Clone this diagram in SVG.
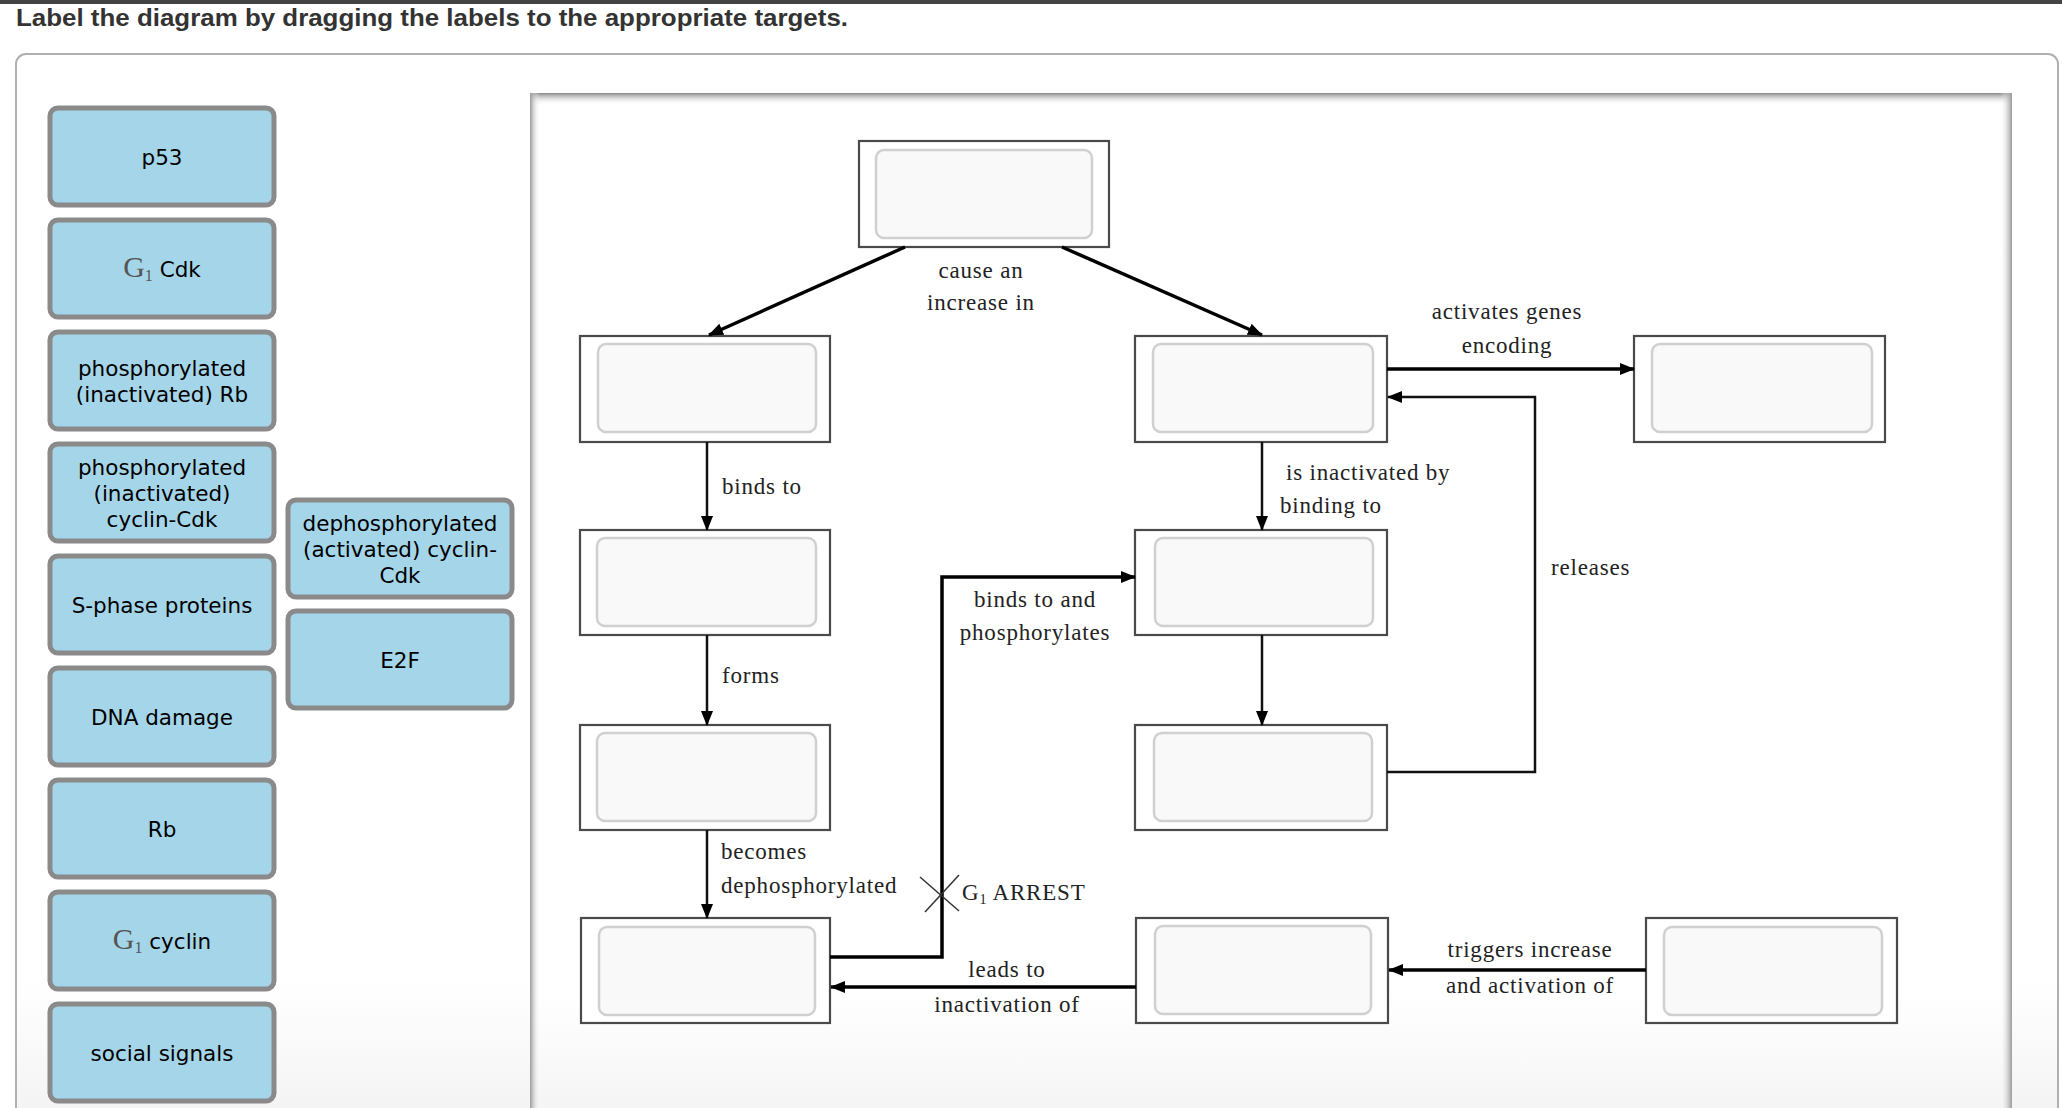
<svg xmlns="http://www.w3.org/2000/svg" width="2062" height="1108" viewBox="0 0 2062 1108">
<defs>
<style>
.title{font-family:"Liberation Sans",Arial,sans-serif;font-weight:bold;font-size:24px;fill:#333}
.btn{fill:#a5d5e8;stroke:#8a8a8a;stroke-width:5}
.btxt{font-family:"DejaVu Sans",Verdana,sans-serif;font-size:21.5px;fill:#000;text-anchor:middle}
.g1{font-family:"Liberation Serif","Times New Roman",serif;fill:#555}
.obox{fill:#fff;stroke:#4a4a4a;stroke-width:2.2}
.ibox{fill:#f9f9f9;stroke:#d0d0d0;stroke-width:2.5}
.lbl{font-family:"Liberation Serif","Times New Roman",serif;font-size:23px;fill:#222;letter-spacing:0.8px}
.mid{text-anchor:middle}
.thick{fill:none;stroke:#000;stroke-width:3.5}
.thin{fill:none;stroke:#111;stroke-width:2.5}
</style>
<marker id="ah" markerUnits="userSpaceOnUse" markerWidth="15" markerHeight="14" refX="14" refY="7" orient="auto">
<path d="M0,1 L15,7 L0,13 z" fill="#000"/>
</marker>
<linearGradient id="gTop" x1="0" y1="0" x2="0" y2="1"><stop offset="0" stop-color="#888"/><stop offset="1" stop-color="#fff" stop-opacity="0"/></linearGradient>
<linearGradient id="gLeft" x1="0" y1="0" x2="1" y2="0"><stop offset="0" stop-color="#9a9a9a"/><stop offset="1" stop-color="#fff" stop-opacity="0"/></linearGradient>
<linearGradient id="gRight" x1="1" y1="0" x2="0" y2="0"><stop offset="0" stop-color="#9a9a9a"/><stop offset="1" stop-color="#fff" stop-opacity="0"/></linearGradient>
<linearGradient id="gBot" x1="0" y1="0" x2="0" y2="1"><stop offset="0" stop-color="#fff"/><stop offset="0.85" stop-color="#fff"/><stop offset="1" stop-color="#f1f1f1"/></linearGradient>
</defs>
<rect x="0" y="0" width="2062" height="1108" fill="#fff"/>
<rect x="0" y="0" width="2062" height="4" fill="#444"/>
<text class="title" x="16" y="26" textLength="832" lengthAdjust="spacingAndGlyphs">Label the diagram by dragging the labels to the appropriate targets.</text>
<rect x="16" y="54" width="2042" height="1090" rx="10" fill="url(#gBot)" stroke="#b0b0b0" stroke-width="2"/>

<g id="labels">
<g id="lbl-p53"><rect class="btn" x="50" y="108" width="224" height="97" rx="8"/><text class="btxt" x="162" y="164.5">p53</text></g>
<g id="lbl-g1cdk"><rect class="btn" x="50" y="220" width="224" height="97" rx="8"/><text class="btxt" x="162" y="276.5"><tspan class="g1" font-size="30">G</tspan><tspan class="g1" font-size="16" dy="4">1</tspan><tspan dy="-4"> Cdk</tspan></text></g>
<g id="lbl-prb"><rect class="btn" x="50" y="332" width="224" height="97" rx="8"/><text class="btxt" x="162" y="375.5">phosphorylated</text><text class="btxt" x="162" y="401.5">(inactivated) Rb</text></g>
<g id="lbl-pcdk"><rect class="btn" x="50" y="444" width="224" height="97" rx="8"/><text class="btxt" x="162" y="474.5">phosphorylated</text><text class="btxt" x="162" y="500.5">(inactivated)</text><text class="btxt" x="162" y="526.5">cyclin-Cdk</text></g>
<g id="lbl-sphase"><rect class="btn" x="50" y="556" width="224" height="97" rx="8"/><text class="btxt" x="162" y="612.5">S-phase proteins</text></g>
<g id="lbl-dna"><rect class="btn" x="50" y="668" width="224" height="97" rx="8"/><text class="btxt" x="162" y="724.5">DNA damage</text></g>
<g id="lbl-rb"><rect class="btn" x="50" y="780" width="224" height="97" rx="8"/><text class="btxt" x="162" y="836.5">Rb</text></g>
<g id="lbl-g1cyclin"><rect class="btn" x="50" y="892" width="224" height="97" rx="8"/><text class="btxt" x="162" y="948.5"><tspan class="g1" font-size="30">G</tspan><tspan class="g1" font-size="16" dy="4">1</tspan><tspan dy="-4"> cyclin</tspan></text></g>
<g id="lbl-social"><rect class="btn" x="50" y="1004" width="224" height="97" rx="8"/><text class="btxt" x="162" y="1060.5">social signals</text></g>
<g id="lbl-dcdk"><rect class="btn" x="288" y="500" width="224" height="97" rx="8"/><text class="btxt" x="400" y="530.5">dephosphorylated</text><text class="btxt" x="400" y="556.5">(activated) cyclin-</text><text class="btxt" x="400" y="582.5">Cdk</text></g>
<g id="lbl-e2f"><rect class="btn" x="288" y="611" width="224" height="97" rx="8"/><text class="btxt" x="400" y="667.5">E2F</text></g>
</g>

<g id="panel">
<rect x="530" y="93" width="1482" height="1060" rx="6" fill="url(#gBot)"/>
<rect x="530" y="93" width="1482" height="12" fill="url(#gTop)"/>
<rect x="530" y="93" width="10" height="1015" fill="url(#gLeft)"/>
<rect x="2000" y="93" width="12" height="1015" fill="url(#gRight)"/>
</g>

<g id="targets">
<g id="t-top"><rect class="obox" x="859" y="141" width="250" height="106"/><rect class="ibox" x="876" y="150" width="216" height="88" rx="8"/></g>
<g id="t-r2l"><rect class="obox" x="580" y="336" width="250" height="106"/><rect class="ibox" x="598" y="344" width="218" height="88" rx="8"/></g>
<g id="t-r2m"><rect class="obox" x="1135" y="336" width="252" height="106"/><rect class="ibox" x="1153" y="344" width="220" height="88" rx="8"/></g>
<g id="t-r2r"><rect class="obox" x="1634" y="336" width="251" height="106"/><rect class="ibox" x="1652" y="344" width="220" height="88" rx="8"/></g>
<g id="t-r3l"><rect class="obox" x="580" y="530" width="250" height="105"/><rect class="ibox" x="597" y="538" width="219" height="88" rx="8"/></g>
<g id="t-r3m"><rect class="obox" x="1135" y="530" width="252" height="105"/><rect class="ibox" x="1155" y="538" width="218" height="88" rx="8"/></g>
<g id="t-r4l"><rect class="obox" x="580" y="725" width="250" height="105"/><rect class="ibox" x="597" y="733" width="219" height="88" rx="8"/></g>
<g id="t-r4m"><rect class="obox" x="1135" y="725" width="252" height="105"/><rect class="ibox" x="1154" y="733" width="218" height="88" rx="8"/></g>
<g id="t-r5l"><rect class="obox" x="581" y="918" width="249" height="105"/><rect class="ibox" x="599" y="927" width="216" height="88" rx="8"/></g>
<g id="t-r5m"><rect class="obox" x="1136" y="918" width="252" height="105"/><rect class="ibox" x="1155" y="926" width="216" height="88" rx="8"/></g>
<g id="t-r5r"><rect class="obox" x="1646" y="918" width="251" height="105"/><rect class="ibox" x="1664" y="927" width="218" height="88" rx="8"/></g>
</g>

<g id="connectors">
<line class="thick" x1="905" y1="247" x2="709" y2="335" marker-end="url(#ah)"/>
<line class="thick" x1="1062" y1="247" x2="1262" y2="335" marker-end="url(#ah)"/>
<line class="thin" x1="707" y1="442" x2="707" y2="530" marker-end="url(#ah)"/>
<line class="thin" x1="707" y1="635" x2="707" y2="725" marker-end="url(#ah)"/>
<line class="thin" x1="707" y1="830" x2="707" y2="918" marker-end="url(#ah)"/>
<line class="thin" x1="1262" y1="442" x2="1262" y2="530" marker-end="url(#ah)"/>
<line class="thin" x1="1262" y1="635" x2="1262" y2="725" marker-end="url(#ah)"/>
<line class="thick" x1="1387" y1="369" x2="1634" y2="369" marker-end="url(#ah)"/>
<polyline class="thin" points="1387,772 1535,772 1535,397 1388,397" marker-end="url(#ah)"/>
<polyline class="thick" points="830,957 942,957 942,577 1135,577" marker-end="url(#ah)"/>
<line class="thick" x1="1136" y1="987" x2="831" y2="987" marker-end="url(#ah)"/>
<line class="thick" x1="1646" y1="970" x2="1389" y2="970" marker-end="url(#ah)"/>
<line x1="920" y1="877" x2="959" y2="911" stroke="#333" stroke-width="1.5"/>
<line x1="959" y1="875" x2="925" y2="912" stroke="#333" stroke-width="1.5"/>
</g>

<g id="connector-labels">
<text class="lbl mid" x="981" y="278">cause an</text>
<text class="lbl mid" x="981" y="310">increase in</text>
<text class="lbl mid" x="1507" y="319">activates genes</text>
<text class="lbl mid" x="1507" y="353">encoding</text>
<text class="lbl" x="722" y="494">binds to</text>
<text class="lbl" x="722" y="683">forms</text>
<text class="lbl" x="721" y="859">becomes</text>
<text class="lbl" x="721" y="893">dephosphorylated</text>
<text class="lbl mid" x="1035" y="607">binds to and</text>
<text class="lbl mid" x="1035" y="640">phosphorylates</text>
<text class="lbl" x="1286" y="480">is inactivated by</text>
<text class="lbl" x="1280" y="513">binding to</text>
<text class="lbl" x="1551" y="575">releases</text>
<text class="lbl" x="962" y="900">G<tspan font-size="14" dy="4">1</tspan><tspan dy="-4"> ARREST</tspan></text>
<text class="lbl mid" x="1007" y="977">leads to</text>
<text class="lbl mid" x="1007" y="1012">inactivation of</text>
<text class="lbl mid" x="1530" y="957">triggers increase</text>
<text class="lbl mid" x="1530" y="993">and activation of</text>
</g>
</svg>
